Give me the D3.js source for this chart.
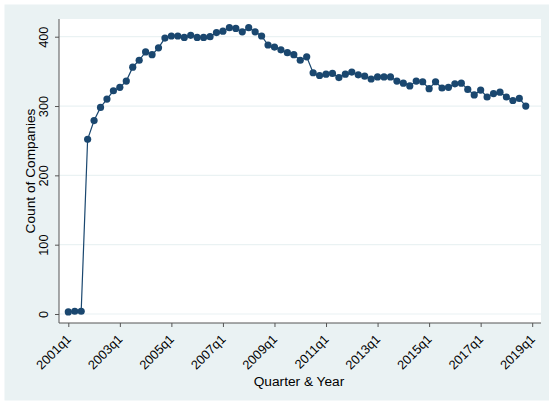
<!DOCTYPE html>
<html>
<head>
<meta charset="utf-8">
<script src="https://cdn.jsdelivr.net/npm/d3@7"></script>
<style>
  html, body { margin: 0; padding: 0; background: #ffffff; }
  svg { display: block; }
  text { font-family: "Liberation Sans", Arial, sans-serif; fill: #000; }
</style>
</head>
<body>
<script>
// Quarterly counts, 2001q1 through 2018q4
const quarters = [];
for (let y = 2001; y <= 2018; y++) for (let q = 1; q <= 4; q++) quarters.push(y + "q" + q);

const counts = [
  3, 4, 4, 252,
  279, 298, 310, 322,
  327, 336, 356, 366,
  378, 374, 384, 398,
  401, 401, 399, 402,
  399, 399, 400, 406,
  408, 413, 412, 407,
  413, 407, 401, 388,
  385, 381, 377, 374,
  366, 371, 348, 344,
  346, 347, 341, 346,
  349, 345, 343, 339,
  342, 342, 342, 336,
  333, 329, 336, 335,
  325, 335, 326, 327,
  332, 333, 324, 316,
  323, 313, 318, 320,
  313, 308, 311, 300
];

const xTickLabels = ["2001q1", "2003q1", "2005q1", "2007q1", "2009q1",
                     "2011q1", "2013q1", "2015q1", "2017q1", "2019q1"];
const yTicks = [0, 100, 200, 300, 400];

const W = 549, H = 403;
const plot = { left: 59, right: 541, top: 19, bottom: 323 };

const svg = d3.select("body").append("svg").attr("width", W).attr("height", H);

// graph region and plot region backgrounds
svg.append("rect").attr("x", 4.5).attr("y", 4.5).attr("width", W - 4.5).attr("height", 396)
  .attr("fill", "#EAF2F3");
svg.append("rect").attr("x", plot.left).attr("y", plot.top)
  .attr("width", plot.right - plot.left).attr("height", plot.bottom - plot.top)
  .attr("fill", "#ffffff");

// quarter index scale: 0 = 2001q1, 72 = 2019q1
const quarterIndex = s => (+s.slice(0, 4) - 2001) * 4 + (+s.slice(5) - 1);
const x = d3.scaleLinear().domain([0, 72]).range([68.3, 532.2]);
const y = d3.scaleLinear().domain([0, 400]).range([314, 36.7]);

// horizontal gridlines
svg.append("g").selectAll("line").data(yTicks).join("line")
  .attr("x1", plot.left).attr("x2", plot.right)
  .attr("y1", d => y(d)).attr("y2", d => y(d))
  .attr("stroke", "#EAF2F3").attr("stroke-width", 1.2);

// y axis
const yAxis = svg.append("g").attr("transform", `translate(${plot.left},0)`)
  .call(d3.axisLeft(y).tickValues(yTicks).tickSize(4).tickPadding(11).tickSizeOuter(0));
yAxis.select(".domain").attr("d", `M0,${plot.top}V${plot.bottom}`).attr("stroke", "#555");
yAxis.selectAll(".tick line").attr("stroke", "#555");
yAxis.selectAll(".tick text")
  .attr("font-size", 12.8)
  .attr("font-family", "Liberation Sans, Arial, sans-serif")
  .attr("text-anchor", "middle")
  .attr("x", null).attr("dy", null)
  .attr("transform", "translate(-11.5,0) rotate(-90)");

// x axis
const xAxis = svg.append("g").attr("transform", `translate(0,${plot.bottom})`)
  .call(d3.axisBottom(x)
    .tickValues(xTickLabels.map(quarterIndex))
    .tickFormat((d, i) => xTickLabels[i])
    .tickSize(4).tickSizeOuter(0));
xAxis.select(".domain").attr("d", `M${plot.left},0H${plot.right}`).attr("stroke", "#555");
xAxis.selectAll(".tick line").attr("stroke", "#555");
xAxis.selectAll(".tick text")
  .attr("font-size", 12.8)
  .attr("font-family", "Liberation Sans, Arial, sans-serif")
  .attr("text-anchor", "end")
  .attr("y", null).attr("dy", null)
  .attr("transform", "translate(3,17) rotate(-45)");

// axis titles
svg.append("text").attr("x", 299).attr("y", 386).attr("text-anchor", "middle")
  .attr("font-size", 13.7).text("Quarter & Year");
svg.append("text").attr("transform", "translate(34.5,171) rotate(-90)")
  .attr("text-anchor", "middle").attr("font-size", 13.7).text("Count of Companies");

// connected series
const pts = counts.map((v, i) => ({ q: i, v }));
svg.append("path").datum(pts)
  .attr("fill", "none").attr("stroke", "#1A476F").attr("stroke-width", 1.2)
  .attr("d", d3.line().x(d => x(d.q)).y(d => y(d.v)));
svg.append("g").selectAll("circle").data(pts).join("circle")
  .attr("cx", d => x(d.q)).attr("cy", d => y(d.v)).attr("r", 3.6)
  .attr("fill", "#1A476F");
</script>
</body>
</html>
